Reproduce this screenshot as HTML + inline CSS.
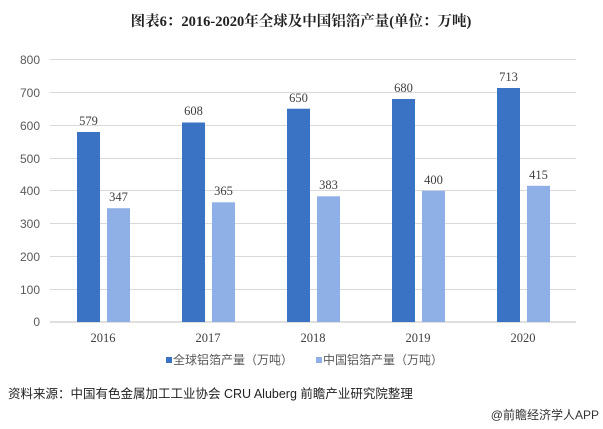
<!DOCTYPE html>
<html><head><meta charset="utf-8"><style>
body{margin:0;background:#fff;}
svg{display:block}
</style></head><body>
<svg width="603" height="429" xmlns="http://www.w3.org/2000/svg">
<text x="301" y="26" text-anchor="middle" font-family="Liberation Serif, Noto Serif CJK SC, serif" font-weight="bold" font-size="14.5" fill="#222">图表6：2016-2020年全球及中国铝箔产量(单位：万吨)</text>
<g stroke="#d9d9d9" stroke-width="1">
<line x1="50" x2="576" y1="59.5" y2="59.5"/><line x1="50" x2="576" y1="92.5" y2="92.5"/>
<line x1="50" x2="576" y1="125.5" y2="125.5"/><line x1="50" x2="576" y1="158.5" y2="158.5"/>
<line x1="50" x2="576" y1="190.5" y2="190.5"/><line x1="50" x2="576" y1="223.5" y2="223.5"/>
<line x1="50" x2="576" y1="256.5" y2="256.5"/><line x1="50" x2="576" y1="289.5" y2="289.5"/>
<line x1="50" x2="576" y1="322" y2="322" stroke="#bfbfbf"/>
</g>
<g font-family="Liberation Sans, sans-serif" font-size="12" fill="#595959" text-anchor="end">
<text x="40" y="64">800</text><text x="40" y="97">700</text><text x="40" y="130">600</text><text x="40" y="163">500</text><text x="40" y="195">400</text><text x="40" y="228">300</text><text x="40" y="261">200</text><text x="40" y="294">100</text><text x="40" y="326">0</text>
</g>
<g fill="#3a73c4">
<rect x="77" y="132" width="23" height="190"/>
<rect x="182" y="122.5" width="23" height="199.5"/>
<rect x="287" y="108.7" width="23" height="213.3"/>
<rect x="392" y="99" width="23" height="223"/>
<rect x="497" y="88" width="23" height="234"/>
</g>
<g fill="#8fb0e6">
<rect x="107" y="208.2" width="23" height="113.8"/>
<rect x="212" y="202.3" width="23" height="119.7"/>
<rect x="317" y="196.3" width="23" height="125.7"/>
<rect x="422" y="190.8" width="23" height="131.2"/>
<rect x="527" y="185.8" width="23" height="136.2"/>
</g>
<g font-family="Liberation Serif, serif" font-size="12.5" fill="#404040" text-anchor="middle">
<text x="88.5" y="125">579</text><text x="193.5" y="115">608</text><text x="298.5" y="102">650</text><text x="403.5" y="92">680</text><text x="508.5" y="81">713</text>
<text x="118.5" y="201">347</text><text x="223.5" y="195">365</text><text x="328.5" y="189">383</text><text x="433.5" y="184">400</text><text x="538.5" y="179">415</text>
<text x="103" y="342">2016</text><text x="208" y="342">2017</text><text x="313" y="342">2018</text><text x="418" y="342">2019</text><text x="523" y="342">2020</text>
</g>
<rect x="166" y="357" width="6" height="6" fill="#3a73c4"/>
<text x="173" y="364" font-family="Liberation Sans, Noto Sans CJK SC, sans-serif" font-size="12" fill="#595959">全球铝箔产量（万吨）</text>
<rect x="316" y="357" width="6" height="6" fill="#8fb0e6"/>
<text x="323" y="364" font-family="Liberation Sans, Noto Sans CJK SC, sans-serif" font-size="12" fill="#595959">中国铝箔产量（万吨）</text>
<text x="8" y="398" font-family="Liberation Sans, Noto Sans CJK SC, sans-serif" font-size="12.5" fill="#222">资料来源：中国有色金属加工工业协会 CRU Aluberg 前瞻产业研究院整理</text>
<text x="599" y="419" text-anchor="end" font-family="Liberation Sans, Noto Sans CJK SC, sans-serif" font-size="12" fill="#333">@前瞻经济学人APP</text>
</svg>
</body></html>
